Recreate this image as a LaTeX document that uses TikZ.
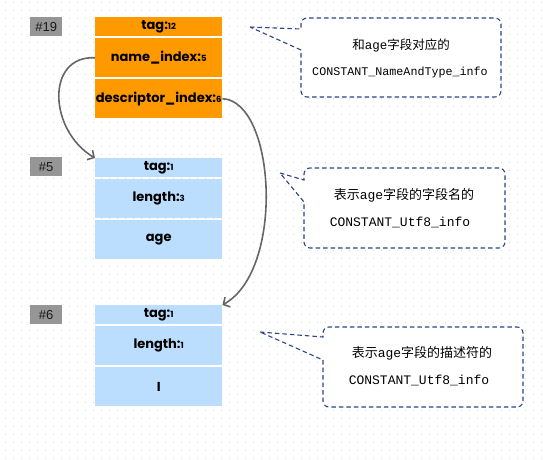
\documentclass[tikz,border=0pt]{standalone}
\usepackage{fontspec}
\setmainfont{Liberation Sans}
\newfontfamily\boxfont{Poppins}
\newfontfamily\cjkfont{Noto Sans CJK SC}
\newfontfamily\monofont{Liberation Mono}
\usetikzlibrary{arrows.meta}
\definecolor{orng}{HTML}{FF9900}
\definecolor{lblue}{HTML}{BBDEFF}
\definecolor{lblgray}{HTML}{969696}
\definecolor{dashblue}{HTML}{2B4589}
\definecolor{arrowgray}{HTML}{666666}
\definecolor{dotc}{HTML}{D6D6D6}
\newcommand\smnum[1]{{\fontsize{8.5}{9}\selectfont #1}}
\begin{document}
\begin{tikzpicture}[x=1pt,y=-1pt,
  row/.style={draw=none, inner sep=0pt, minimum width=127pt, anchor=north west,
    font=\boxfont\bfseries\fontsize{13}{15}\selectfont, text=black},
  tagrow/.style={row, minimum height=19pt},
  bigrow/.style={row, minimum height=39pt},
  idlabel/.style={fill=lblgray, draw=none, inner sep=0pt, minimum width=32pt, minimum height=19pt,
    anchor=north west, font=\fontsize{13}{15}\selectfont, text=black!90},
  callout/.style={draw=dashblue, fill=white, line width=1.1pt, dash pattern=on 4.5pt off 3pt},
  cjk/.style={font=\cjkfont\fontsize{12.5}{14}\selectfont, inner sep=0pt, text=black},
  mono/.style={font=\monofont\fontsize{13}{14}\selectfont, inner sep=0pt, text=black},
  link/.style={draw=arrowgray, line width=1.6pt, -{Straight Barb[length=5pt,width=11pt,line width=1.6pt]}}]
\useasboundingbox (0,0) rectangle (549,459);
\fill[white] (0,0) rectangle (549,459);
\foreach \i in {0,...,68}{
  \foreach \j in {0,...,57}{
    \fill[dotc] ({5+8*\i},{2+8*\j}) rectangle ++(1.1,1.1);
  }
}
% entry #19
\node[idlabel] (l19) at (30,17) {\#19};
\node[tagrow, fill=orng] (t19) at (95,17) {tag:\smnum{12}};
\node[bigrow, fill=orng] (n19) at (95,38) {name\_index:\smnum{5}};
\node[bigrow, fill=orng] (d19) at (95,79) {descriptor\_index:\smnum{6}};
% entry #5
\node[idlabel] (l5) at (30,157) {\#5};
\node[tagrow, fill=lblue] (t5) at (95,158) {tag:\smnum{1}};
\node[bigrow, fill=lblue] (len5) at (95,179) {length:\smnum{3}};
\node[bigrow, fill=lblue] (v5) at (95,220) {age};
% entry #6
\node[idlabel] (l6) at (30,305) {\#6};
\node[tagrow, fill=lblue] (t6) at (95,305) {tag:\smnum{1}};
\node[bigrow, fill=lblue] (len6) at (95,326) {length:\smnum{1}};
\node[bigrow, fill=lblue] (v6) at (95,367) {I};
% links
\draw[link] (n19.west) .. controls +(-50,-2) and +(-46,-27) .. (t5.north west);
\draw[link] (d19.east) .. controls +(53,2) and +(63,-35) .. (t6.north east);
% callout 1
\draw[callout] (250,27) -- (301,29) [rounded corners=6pt] -- (301,18) -- (501,18) -- (501,97) -- (301,97) [sharp corners] -- (301,50) -- cycle;
\node[cjk] (c1a) at (401,45) {和{\monofont age}字段对应的};
\node[mono, font=\monofont\fontsize{11.7}{13}\selectfont] (c1b) at (400,72) {CONSTANT\_NameAndType\_info};
% callout 2
\draw[callout] (280,173) -- (304,180) [rounded corners=6pt] -- (304,168) -- (505,168) -- (505,248) -- (304,248) [sharp corners] -- (304,202) -- cycle;
\node[cjk, font=\cjkfont\fontsize{13}{14}\selectfont] (c2a) at (404,195) {表示{\monofont age}字段的字段名的};
\node[mono] (c2b) at (400,222) {CONSTANT\_Utf8\_info};
% callout 3
\draw[callout] (260,332) -- (323,337) [rounded corners=6pt] -- (323,327) -- (523,327) -- (523,407) -- (323,407) [sharp corners] -- (323,360) -- cycle;
\node[cjk, font=\cjkfont\fontsize{13}{14}\selectfont] (c3a) at (422,353) {表示{\monofont age}字段的描述符的};
\node[mono] (c3b) at (419,380) {CONSTANT\_Utf8\_info};
\end{tikzpicture}
\end{document}
